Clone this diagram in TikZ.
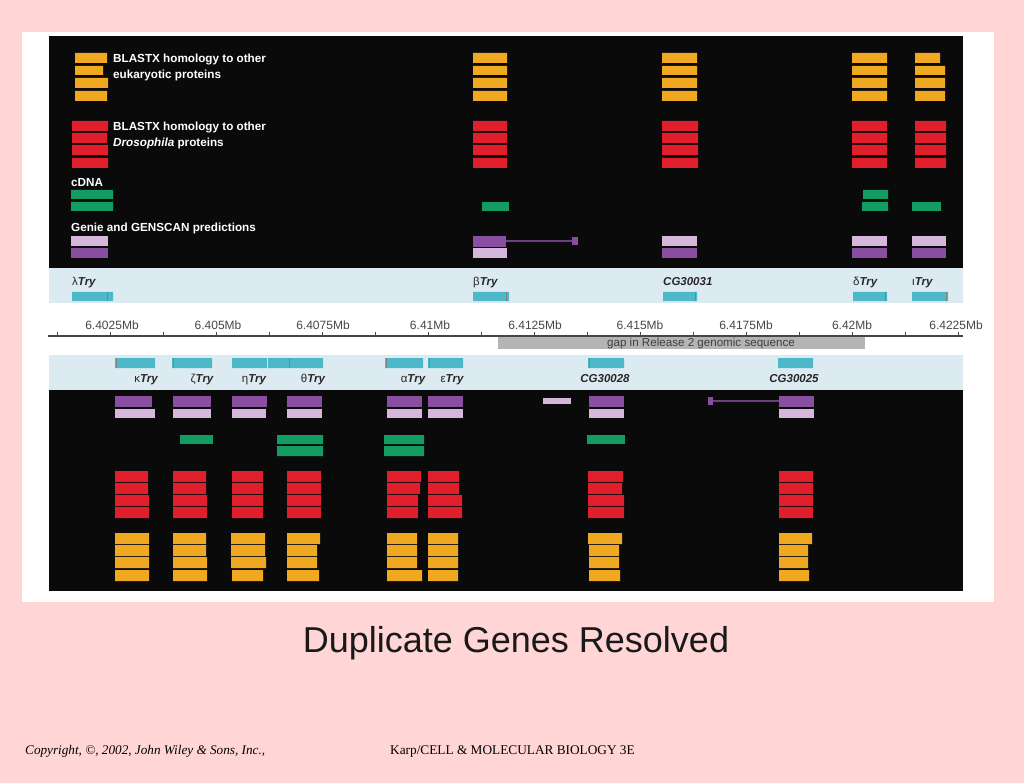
\documentclass[tikz,border=0pt]{standalone}
\usepackage{fontspec}
\setmainfont{Liberation Sans}
\newfontfamily\serifface{Liberation Serif}
\usepackage{xcolor}
\usepackage{tikz}
\usetikzlibrary{positioning,calc}
\definecolor{slidepink}{RGB}{255,213,214}
\definecolor{panelblack}{RGB}{10,10,10}
\definecolor{bandblue}{RGB}{220,235,242}
\definecolor{barorange}{RGB}{240,168,32}
\definecolor{barred}{RGB}{224,30,44}
\definecolor{bargreen}{RGB}{18,156,98}
\definecolor{lightpurple}{RGB}{214,182,218}
\definecolor{darkpurple}{RGB}{138,78,160}
\definecolor{genecyan}{RGB}{76,184,200}
\definecolor{axisgray}{RGB}{70,70,70}
\definecolor{gapgray}{RGB}{180,180,180}

\begin{document}
\begin{tikzpicture}[x = 1pt, y = -1pt,
  org/.style = {fill = barorange},
  rd/.style = {fill = barred},
  grn/.style = {fill = bargreen},
  lpur/.style = {fill = lightpurple},
  dpur/.style = {fill = darkpurple},
  gene bar/.style = {fill = genecyan},
  intron/.style = {draw = darkpurple!80!black, line width = 1.2pt},
  legend/.style = {font = \fontsize{11.7}{13}\selectfont\bfseries, text = white, anchor = base west, inner sep = 0pt},
  gene/.style = {font = \fontsize{11.5}{13}\selectfont\bfseries\itshape, text = black!85, anchor = base west, inner sep = 0pt},
  mb/.style = {font = \fontsize{12}{14}\selectfont, text = axisgray, anchor = base, inner sep = 0pt}]
\useasboundingbox (0,0) rectangle (1024,783);
\fill[slidepink] (0,0) rectangle (1024,783);
\fill[white] (22,32) rectangle (994,602);
% panels and bands
\fill[panelblack] (49,36) rectangle (963,268);
\fill[bandblue] (49,268) rectangle (963,303);
\fill[bandblue] (49,355) rectangle (963,390);
\fill[panelblack] (49,390) rectangle (963,591);

% legend
\fill[org] (75,53) rectangle (107,63) (75,66) rectangle (103,75) (75,78) rectangle (108,88) (75,91) rectangle (107,101);
\node[legend] (leg1) at (113,63) {BLASTX homology to other};
\node[legend] (leg1b) at (113,79) {eukaryotic proteins};
\fill[rd] (72,121) rectangle (108,131) (72,133) rectangle (107,143) (72,145) rectangle (108,155) (72,158) rectangle (108,168);
\node[legend] (leg2) at (113,131) {BLASTX homology to other};
\node[legend] (leg2b) at (113,147) {\itshape Drosophila\upshape\ proteins};
\node[legend] (leg3) at (71,187) {cDNA};
\fill[grn] (71,190) rectangle (113,199) (71,202) rectangle (113,211);
\node[legend] (leg4) at (71,232) {Genie and GENSCAN predictions};
\fill[lpur] (71,236) rectangle (108,246);
\fill[dpur] (71,248) rectangle (108,258);

% top tracks: beta Try
\fill[org] (473,53) rectangle (507,63) (473,66) rectangle (507,75) (473,78) rectangle (507,88) (473,91) rectangle (507,101);
\fill[rd] (473,121) rectangle (507,131) (473,133) rectangle (507,143) (473,145) rectangle (507,155) (473,158) rectangle (507,168);
\fill[grn] (482,202) rectangle (509,211);
\fill[dpur] (473,236) rectangle (506,247);
\fill[lpur] (473,248) rectangle (507,258);
\coordinate (btryA) at (506,241);
\coordinate (btryB) at (573,241);
\draw[intron] (btryA) -- (btryB);
\fill[dpur] (572,237) rectangle (578,245);
% CG30031
\fill[org] (662,53) rectangle (697,63) (662,66) rectangle (697,75) (662,78) rectangle (697,88) (662,91) rectangle (697,101);
\fill[rd] (662,121) rectangle (698,131) (662,133) rectangle (698,143) (662,145) rectangle (698,155) (662,158) rectangle (698,168);
\fill[lpur] (662,236) rectangle (697,246);
\fill[dpur] (662,248) rectangle (697,258);
% delta Try
\fill[org] (852,53) rectangle (887,63) (852,66) rectangle (887,75) (852,78) rectangle (887,88) (852,91) rectangle (887,101);
\fill[rd] (852,121) rectangle (887,131) (852,133) rectangle (887,143) (852,145) rectangle (887,155) (852,158) rectangle (887,168);
\fill[grn] (863,190) rectangle (888,199) (862,202) rectangle (888,211);
\fill[lpur] (852,236) rectangle (887,246);
\fill[dpur] (852,248) rectangle (887,258);
% iota Try
\fill[org] (915,53) rectangle (940,63) (915,66) rectangle (945,75) (915,78) rectangle (945,88) (915,91) rectangle (945,101);
\fill[rd] (915,121) rectangle (946,131) (915,133) rectangle (946,143) (915,145) rectangle (946,155) (915,158) rectangle (946,168);
\fill[grn] (912,202) rectangle (941,211);
\fill[lpur] (912,236) rectangle (946,246);
\fill[dpur] (912,248) rectangle (946,258);

% top gene band
\node[gene] (lam) at (72,286) {{\normalfont λ}Try};
\node[gene] (bet) at (473,286) {{\normalfont β}Try};
\node[gene] (cg31) at (663,286) {CG30031};
\node[gene] (del) at (853,286) {{\normalfont δ}Try};
\node[gene] (iot) at (912,286) {{\normalfont ι}Try};
\fill[gene bar] (72,292) rectangle (113,301) (473,292) rectangle (509,301) (663,292) rectangle (697,301) (853,292) rectangle (887,301) (912,292) rectangle (948,301);
\draw[gray, line width = 1pt] (107,292) -- (107,301) (506,292) -- (506,301) (695,292) -- (695,301) (885,292) -- (885,301) (946,292) -- (946,301);

% axis
\fill[gapgray] (498,337) rectangle (865,349);
\node[font = \fontsize{11.6}{13}\selectfont, text = axisgray!90!black, anchor = base] (gap) at (701,346.5) {gap in Release 2 genomic sequence};
\coordinate (axL) at (48,336);
\coordinate (axR) at (963,336);
\draw[axisgray, line width = 1.2pt] (axL) -- (axR);
\draw[axisgray, line width = .8pt] (57,336) -- (57,332) (110,336) -- (110,332) (163,336) -- (163,332) (216,336) -- (216,332) (269,336) -- (269,332) (322,336) -- (322,332) (375,336) -- (375,332) (428,336) -- (428,332) (481,336) -- (481,332) (534,336) -- (534,332) (587,336) -- (587,332) (640,336) -- (640,332) (693,336) -- (693,332) (746,336) -- (746,332) (799,336) -- (799,332) (852,336) -- (852,332) (905,336) -- (905,332) (958,336) -- (958,332);
\node[mb] (m1) at (112,329) {6.4025Mb};
\node[mb] (m2) at (218,329) {6.405Mb};
\node[mb] (m3) at (323,329) {6.4075Mb};
\node[mb] (m4) at (430,329) {6.41Mb};
\node[mb] (m5) at (535,329) {6.4125Mb};
\node[mb] (m6) at (640,329) {6.415Mb};
\node[mb] (m7) at (746,329) {6.4175Mb};
\node[mb] (m8) at (852,329) {6.42Mb};
\node[mb] (m9) at (956,329) {6.4225Mb};

% bottom gene band
\fill[gene bar] (115,358) rectangle (155,368) (172,358) rectangle (212,368) (232,358) rectangle (267,368) (268,358) rectangle (323,368) (385,358) rectangle (423,368) (428,358) rectangle (463,368) (588,358) rectangle (624,368) (778,358) rectangle (813,368);
\draw[gray, line width = 1pt] (116,358) -- (116,368) (173,358) -- (173,368) (289,358) -- (289,368) (386,358) -- (386,368) (429,358) -- (429,368) (589,358) -- (589,368);
\node[gene, anchor = base] (kap) at (146,382) {{\normalfont κ}Try};
\node[gene, anchor = base] (zet) at (202,382) {{\normalfont ζ}Try};
\node[gene, anchor = base] (eta) at (254,382) {{\normalfont η}Try};
\node[gene, anchor = base] (the) at (313,382) {{\normalfont θ}Try};
\node[gene, anchor = base] (alp) at (413,382) {{\normalfont α}Try};
\node[gene, anchor = base] (eps) at (452,382) {{\normalfont ε}Try};
\node[gene, anchor = base] (cg28) at (605,382) {CG30028};
\node[gene, anchor = base] (cg25) at (794,382) {CG30025};

% bottom tracks: kappa Try
\fill[dpur] (115,396) rectangle (152,407);
\fill[lpur] (115,409) rectangle (155,418);
\fill[rd] (115,471) rectangle (148,482) (115,483) rectangle (148,494) (115,495) rectangle (149,506) (115,507) rectangle (149,518);
\fill[org] (115,533) rectangle (149,544) (115,545) rectangle (149,556) (115,557) rectangle (149,568) (115,570) rectangle (149,581);
% zeta Try
\fill[dpur] (173,396) rectangle (211,407);
\fill[lpur] (173,409) rectangle (211,418);
\fill[grn] (180,435) rectangle (213,444);
\fill[rd] (173,471) rectangle (206,482) (173,483) rectangle (206,494) (173,495) rectangle (207,506) (173,507) rectangle (207,518);
\fill[org] (173,533) rectangle (206,544) (173,545) rectangle (206,556) (173,557) rectangle (207,568) (173,570) rectangle (207,581);
% eta Try
\fill[dpur] (232,396) rectangle (267,407);
\fill[lpur] (232,409) rectangle (266,418);
\fill[rd] (232,471) rectangle (263,482) (232,483) rectangle (263,494) (232,495) rectangle (263,506) (232,507) rectangle (263,518);
\fill[org] (231,533) rectangle (265,544) (231,545) rectangle (265,556) (231,557) rectangle (266,568) (232,570) rectangle (263,581);
% theta Try
\fill[dpur] (287,396) rectangle (322,407);
\fill[lpur] (287,409) rectangle (322,418);
\fill[grn] (277,435) rectangle (323,444) (277,446) rectangle (323,456);
\fill[rd] (287,471) rectangle (321,482) (287,483) rectangle (321,494) (287,495) rectangle (321,506) (287,507) rectangle (321,518);
\fill[org] (287,533) rectangle (320,544) (287,545) rectangle (317,556) (287,557) rectangle (317,568) (287,570) rectangle (319,581);
% alpha Try
\fill[dpur] (387,396) rectangle (422,407);
\fill[lpur] (387,409) rectangle (422,418);
\fill[grn] (384,435) rectangle (424,444) (384,446) rectangle (424,456);
\fill[rd] (387,471) rectangle (421,482) (387,483) rectangle (420,494) (387,495) rectangle (418,506) (387,507) rectangle (418,518);
\fill[org] (387,533) rectangle (417,544) (387,545) rectangle (417,556) (387,557) rectangle (417,568) (387,570) rectangle (422,581);
% epsilon Try
\fill[dpur] (428,396) rectangle (463,407);
\fill[lpur] (428,409) rectangle (463,418);
\fill[rd] (428,471) rectangle (459,482) (428,483) rectangle (459,494) (428,495) rectangle (462,506) (428,507) rectangle (462,518);
\fill[org] (428,533) rectangle (458,544) (428,545) rectangle (458,556) (428,557) rectangle (458,568) (428,570) rectangle (458,581);
% CG30028
\fill[lpur] (543,398) rectangle (571,404);
\fill[dpur] (589,396) rectangle (624,407);
\fill[lpur] (589,409) rectangle (624,418);
\fill[grn] (587,435) rectangle (625,444);
\fill[rd] (588,471) rectangle (623,482) (588,483) rectangle (622,494) (588,495) rectangle (624,506) (588,507) rectangle (624,518);
\fill[org] (588,533) rectangle (622,544) (589,545) rectangle (619,556) (589,557) rectangle (619,568) (589,570) rectangle (620,581);
% CG30025
\coordinate (cgA) at (712,401);
\coordinate (cgB) at (779,401);
\draw[intron] (cgA) -- (cgB);
\fill[dpur] (708,397) rectangle (713,405);
\fill[dpur] (779,396) rectangle (814,407);
\fill[lpur] (779,409) rectangle (814,418);
\fill[rd] (779,471) rectangle (813,482) (779,483) rectangle (813,494) (779,495) rectangle (813,506) (779,507) rectangle (813,518);
\fill[org] (779,533) rectangle (812,544) (779,545) rectangle (808,556) (779,557) rectangle (808,568) (779,570) rectangle (809,581);

% title and footer
\node[font = \fontsize{36}{40}\selectfont, text = black!90, anchor = base] (title) at (516,652) {Duplicate Genes Resolved};
\node[font = \serifface\itshape\fontsize{13.2}{15}\selectfont, anchor = base west, inner sep = 0pt] (copy) at (25,754) {Copyright, ©, 2002, John Wiley \& Sons, Inc.,};
\node[font = \serifface\fontsize{13.3}{15}\selectfont, anchor = base west, inner sep = 0pt] (karp) at (390,754) {Karp/CELL \& MOLECULAR BIOLOGY 3E};
\end{tikzpicture}
\end{document}
